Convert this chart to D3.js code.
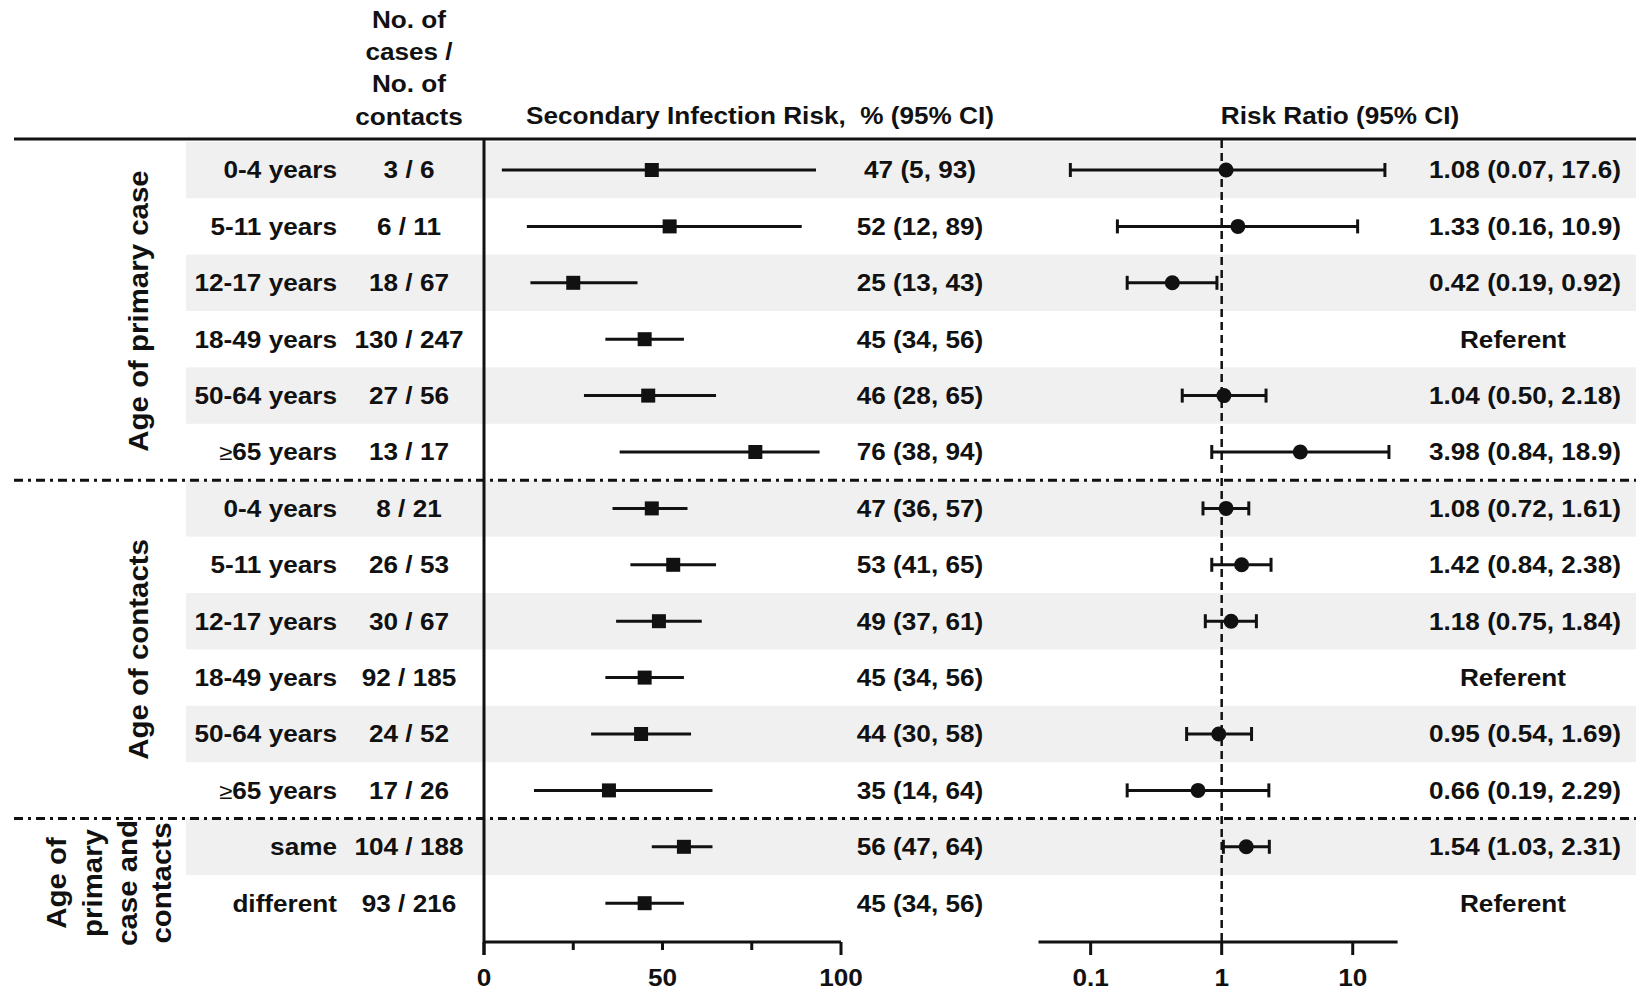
<!DOCTYPE html>
<html><head><meta charset="utf-8">
<script src="https://cdn.jsdelivr.net/npm/d3@7"></script>
<style>
body{margin:0;background:#fff;}
text{font-family:"Liberation Sans",Arial,Helvetica,sans-serif;font-weight:bold;fill:#111;white-space:pre;}
</style>
</head><body><svg id="c" width="1636" height="990"></svg>
<script>
// ---------- data ----------
const rowLabels = ["0-4 years","5-11 years","12-17 years","18-49 years","50-64 years","≥65 years",
                   "0-4 years","5-11 years","12-17 years","18-49 years","50-64 years","≥65 years",
                   "same","different"];
const casesText = ["3 / 6","6 / 11","18 / 67","130 / 247","27 / 56","13 / 17",
                   "8 / 21","26 / 53","30 / 67","92 / 185","24 / 52","17 / 26",
                   "104 / 188","93 / 216"];
const sirEst = [47,52,25,45,46,76, 47,53,49,45,44,35, 56,45];
const sirLo  = [ 5,12,13,34,28,38, 36,41,37,34,30,14, 47,34];
const sirHi  = [93,89,43,56,65,94, 57,65,61,56,58,64, 64,56];
const rrEst = [1.08,1.33,0.42,null,1.04,3.98, 1.08,1.42,1.18,null,0.95,0.66, 1.54,null];
const rrLo  = [0.07,0.16,0.19,null,0.50,0.84, 0.72,0.84,0.75,null,0.54,0.19, 1.03,null];
const rrHi  = [17.6,10.9,0.92,null,2.18,18.9, 1.61,2.38,1.84,null,1.69,2.29, 2.31,null];
const shadedRows = [0,2,4,6,8,10,12];
const groupNames = [["Age of primary case"],["Age of contacts"],["Age of","primary","case and","contacts"]];
const groupRows = [[0,5],[6,11],[12,13]];
const headerCases = ["No. of","cases /","No. of","contacts"];
const headerSir = "Secondary Infection Risk,  % (95% CI)";
const headerRR = "Risk Ratio (95% CI)";
const sirTicks = [0,25,50,75,100];
const sirTickLabels = [0,50,100];
const rrTicks = [0.1,1,10];

// ---------- layout ----------
const W = 1636, H = 990;
const FS = 24, SX = 1.09, INK = "#111";
const svg = d3.select("#c");

const y = d3.scaleBand().domain(d3.range(rowLabels.length)).range([141.8, 141.8 + 14*56.4]).padding(0);
const yc = i => y(i) + y.bandwidth()/2;
const xL = d3.scaleLinear().domain([0,100]).range([484, 841]);
const xR = d3.scaleLog().domain([0.04, 22]).range([1038.5, 1397.6]);

function txt(parent, x, yy, str, anchor, opts={}) {
  const t = parent.append("text")
    .attr("transform", `translate(${x},${yy}) ${opts.rot ? "rotate(-90)" : ""} scale(${SX},1)`)
    .attr("text-anchor", anchor || "middle")
    .attr("xml:space", "preserve")
    .attr("font-size", opts.fs || FS);
  if (opts.dy) t.attr("dy", opts.dy);
  if (str.startsWith("≥")) {
    t.append("tspan").attr("font-weight","normal").attr("font-size",(opts.fs||FS)*0.92).text("≥");
    t.append("tspan").text(str.slice(1));
  } else t.text(str);
  return t;
}

// shaded bands
svg.append("g").selectAll("rect").data(shadedRows).join("rect")
  .attr("x", 186).attr("width", W - 186)
  .attr("y", d => y(d)).attr("height", y.bandwidth())
  .attr("fill", "#f0f0f0");

// headers
const hg = svg.append("g");
headerCases.forEach((s,i) => txt(hg, 409, 28 + i*32.2, s, "middle"));
txt(hg, 760, 124, headerSir, "middle");
txt(hg, 1340, 124, headerRR, "middle");

// top rule
svg.append("line").attr("x1", 14).attr("x2", W).attr("y1", 139).attr("y2", 139)
  .attr("stroke", INK).attr("stroke-width", 3);

// group separators (dash-dot)
const sepY = groupRows.slice(1).map(g => y(g[0]));
svg.append("g").selectAll("line").data(sepY).join("line")
  .attr("x1", 14).attr("x2", W).attr("y1", d => d).attr("y2", d => d)
  .attr("stroke", INK).attr("stroke-width", 3).attr("stroke-dasharray", "9,5,3,5");

// group labels
const gg = svg.append("g");
groupNames.forEach((lines, gi) => {
  const [a,b] = groupRows[gi];
  const cy = (yc(a) + yc(b))/2;
  if (lines.length === 1) {
    txt(gg, 139, cy, lines[0], "middle", {rot:true, fs:27, dy:"0.35em"});
  } else {
    const xs = [57, 93, 128, 162];
    lines.forEach((s,k) => txt(gg, xs[k], cy + 8, s, "middle", {rot:true, fs:27, dy:"0.35em"}));
  }
});

// row labels & counts
const rg = svg.append("g");
rowLabels.forEach((s,i) => txt(rg, 337, yc(i), s, "end", {dy:"0.35em"}));
casesText.forEach((s,i) => txt(rg, 409, yc(i), s, "middle", {dy:"0.35em"}));

// ---------- left panel: SIR ----------
const lp = svg.append("g");
lp.append("line").attr("x1", xL(0)).attr("x2", xL(0)).attr("y1", 139).attr("y2", 955)
  .attr("stroke", INK).attr("stroke-width", 3);
lp.append("line").attr("x1", xL(0)).attr("x2", xL(100)).attr("y1", 942).attr("y2", 942)
  .attr("stroke", INK).attr("stroke-width", 3);
lp.selectAll("line.tk").data(sirTicks).join("line").attr("class","tk")
  .attr("x1", d => xL(d)).attr("x2", d => xL(d)).attr("y1", 942)
  .attr("y2", d => (d===0||d===100) ? 955 : 950)
  .attr("stroke", INK).attr("stroke-width", 3);
sirTickLabels.forEach(v => txt(lp, xL(v), 986, String(v), "middle"));

const idx = d3.range(rowLabels.length);
lp.selectAll("line.ci").data(idx).join("line").attr("class","ci")
  .attr("x1", i => xL(sirLo[i])).attr("x2", i => xL(sirHi[i]))
  .attr("y1", i => yc(i)).attr("y2", i => yc(i))
  .attr("stroke", INK).attr("stroke-width", 3);
lp.selectAll("rect.pt").data(idx).join("rect").attr("class","pt")
  .attr("x", i => xL(sirEst[i]) - 7).attr("y", i => yc(i) - 7)
  .attr("width", 14).attr("height", 14).attr("fill", INK);
idx.forEach(i => txt(lp, 920, yc(i), `${sirEst[i]} (${sirLo[i]}, ${sirHi[i]})`, "middle", {dy:"0.35em"}));

// ---------- right panel: RR ----------
const rp = svg.append("g");
rp.append("line").attr("x1", xR(1)).attr("x2", xR(1)).attr("y1", 140).attr("y2", 942)
  .attr("stroke", INK).attr("stroke-width", 2.5).attr("stroke-dasharray", "8,5");
rp.append("line").attr("x1", xR.range()[0]).attr("x2", xR.range()[1]).attr("y1", 942).attr("y2", 942)
  .attr("stroke", INK).attr("stroke-width", 3);
rp.selectAll("line.tk").data(rrTicks).join("line").attr("class","tk")
  .attr("x1", d => xR(d)).attr("x2", d => xR(d)).attr("y1", 942).attr("y2", 955)
  .attr("stroke", INK).attr("stroke-width", 3);
rrTicks.forEach(v => txt(rp, xR(v), 986, String(v), "middle"));

const rIdx = idx.filter(i => rrEst[i] !== null);
rp.selectAll("line.ci").data(rIdx).join("line").attr("class","ci")
  .attr("x1", i => xR(rrLo[i])).attr("x2", i => xR(rrHi[i]))
  .attr("y1", i => yc(i)).attr("y2", i => yc(i))
  .attr("stroke", INK).attr("stroke-width", 3);
rp.selectAll("line.capl").data(rIdx).join("line").attr("class","capl")
  .attr("x1", i => xR(rrLo[i])).attr("x2", i => xR(rrLo[i]))
  .attr("y1", i => yc(i) - 7).attr("y2", i => yc(i) + 7)
  .attr("stroke", INK).attr("stroke-width", 3);
rp.selectAll("line.caph").data(rIdx).join("line").attr("class","caph")
  .attr("x1", i => xR(rrHi[i])).attr("x2", i => xR(rrHi[i]))
  .attr("y1", i => yc(i) - 7).attr("y2", i => yc(i) + 7)
  .attr("stroke", INK).attr("stroke-width", 3);
rp.selectAll("circle").data(rIdx).join("circle")
  .attr("cx", i => xR(rrEst[i])).attr("cy", i => yc(i)).attr("r", 7.5).attr("fill", INK);

const f2 = v => v >= 10 ? v.toFixed(1) : v.toFixed(2);
idx.forEach(i => {
  if (rrEst[i] === null) txt(rp, 1513, yc(i), "Referent", "middle", {dy:"0.35em"});
  else txt(rp, 1429, yc(i), `${f2(rrEst[i])} (${f2(rrLo[i])}, ${f2(rrHi[i])})`, "start", {dy:"0.35em"});
});
</script>
</body></html>
